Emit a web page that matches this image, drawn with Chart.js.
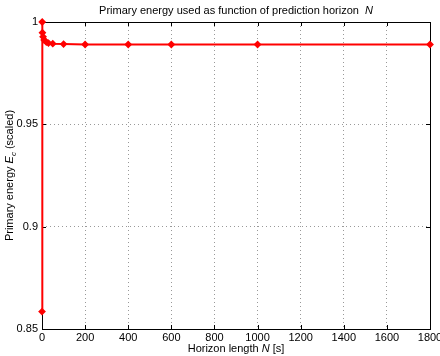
<!DOCTYPE html>
<html><head><meta charset="utf-8">
<script src="https://cdn.jsdelivr.net/npm/chart.js@4/dist/chart.umd.min.js"></script>
<style>html,body{margin:0;padding:0;background:#fff}#w{width:440px;height:356px}</style>
</head><body><div id="w"><canvas id="c" width="440" height="356"></canvas></div>
<script>
const horizon = [0, 1, 2, 5, 10, 20, 30, 50, 100, 200, 400, 600, 1000, 1800];
const energy = [0.8585, 1.0, 0.9948, 0.9928, 0.9912, 0.9902, 0.9897, 0.9894, 0.9892, 0.989, 0.989, 0.989, 0.989, 0.989];
const xTicks = [0, 200, 400, 600, 800, 1000, 1200, 1400, 1600, 1800];
const yTicks = [0.85, 0.9, 0.95, 1];

const FONT = '"Liberation Sans", Arial, sans-serif';
function drawMixed(ctx, parts, x, y, align) {
  let total = 0;
  parts.forEach(p => { ctx.font = p.f; total += ctx.measureText(p.t).width; });
  let cx = align === 'center' ? x - total / 2 : x;
  parts.forEach(p => { ctx.font = p.f; ctx.fillText(p.t, cx, y + (p.dy || 0)); cx += ctx.measureText(p.t).width; });
}
const decor = {
  id: 'decor',
  beforeDatasetsDraw(chart) {
    const {ctx, chartArea: a, scales: {x, y}} = chart;
    ctx.save();
    ctx.strokeStyle = '#000'; ctx.lineWidth = 1;
    ctx.beginPath();
    xTicks.forEach(v => { const px = Math.round(x.getPixelForValue(v)) + 0.5;
      ctx.moveTo(px, a.bottom); ctx.lineTo(px, a.bottom - 4);
      ctx.moveTo(px, a.top); ctx.lineTo(px, a.top + 4); });
    yTicks.forEach(v => { const py = Math.round(y.getPixelForValue(v)) + 0.5;
      ctx.moveTo(a.left, py); ctx.lineTo(a.left + 4, py);
      ctx.moveTo(a.right, py); ctx.lineTo(a.right - 4, py); });
    ctx.stroke();
    ctx.strokeRect(Math.round(a.left) + 0.5, Math.round(a.top) + 0.5, Math.round(a.right - a.left), Math.round(a.bottom - a.top));
    ctx.fillStyle = '#000'; ctx.textBaseline = 'alphabetic'; ctx.textAlign = 'left';
    const n = '11px ' + FONT, it = 'italic 11px ' + FONT;
    drawMixed(ctx, [{t: 'Primary energy used as function of prediction horizon  ', f: n}, {t: 'N', f: it}], (a.left + a.right) / 2, 14, 'center');
    drawMixed(ctx, [{t: 'Horizon length ', f: n}, {t: 'N', f: it}, {t: ' [s]', f: n}], (a.left + a.right) / 2, 352, 'center');
    ctx.translate(13, (a.top + a.bottom) / 2);
    ctx.rotate(-Math.PI / 2);
    drawMixed(ctx, [{t: 'Primary energy ', f: n}, {t: 'E', f: it}, {t: 'c', f: 'italic 8px ' + FONT, dy: 3}, {t: ' (scaled)', f: n}], 0, 0, 'center');
    ctx.restore();
  }
};
new Chart(document.getElementById('c'), {
  type: 'scatter',
  data: { datasets: [{
    data: horizon.map((h, i) => ({x: h, y: energy[i]})),
    showLine: true, borderColor: '#ff0000', backgroundColor: '#ff0000',
    borderWidth: 2, pointRadius: 2.5, pointHoverRadius: 2.5, pointStyle: 'rectRot', clip: false
  }]},
  options: {
    responsive: false, animation: false, devicePixelRatio: 1,
    layout: {padding: {top: 22, right: 10, left: 0, bottom: 0}},
    plugins: {legend: {display: false}, tooltip: {enabled: false}},
    scales: {
      x: { type: 'linear', min: 0, max: 1800,
        afterBuildTicks: s => { s.ticks = xTicks.map(v => ({value: v})); },
        afterFit: s => { s.height = 27; s.paddingLeft = 0; s.paddingRight = 0; },
        grid: {color: '#999', lineWidth: 1, drawTicks: false},
        border: {display: false, dash: [1, 3]},
        ticks: {color: '#000', font: {family: FONT, size: 11}, padding: 2, maxRotation: 0, autoSkip: false,
          callback: v => String(v)}
      },
      y: { type: 'linear', min: 0.85, max: 1,
        afterBuildTicks: s => { s.ticks = yTicks.map(v => ({value: v})); },
        afterFit: s => { s.width = 42; s.paddingTop = 0; s.paddingBottom = 0; },
        grid: {color: '#999', lineWidth: 1, drawTicks: false},
        border: {display: false, dash: [1, 3]},
        ticks: {color: '#000', font: {family: FONT, size: 11}, padding: 4, autoSkip: false,
          callback: v => String(Number(v.toFixed(2)))}
      }
    }
  },
  plugins: [decor]
});
</script></body></html>
